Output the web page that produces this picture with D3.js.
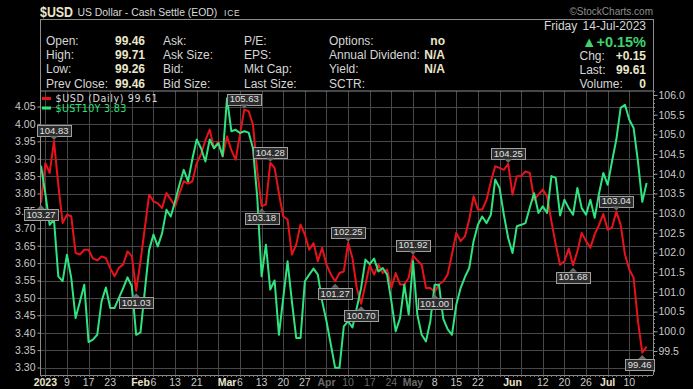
<!DOCTYPE html>
<html><head><meta charset="utf-8">
<script src="https://cdn.jsdelivr.net/npm/d3@7"></script>
<style>
html,body{margin:0;padding:0;background:#000;overflow:hidden;}
svg{display:block;font-family:"Liberation Sans",Arial,sans-serif;}
</style></head><body>
<svg id="chart" width="693" height="389"></svg>
<script>
// ---------------- DATA ----------------
const firstDate = "2022-12-30";
const usdValues = [
103.27,104.27,104.02,104.83,103.72,102.75,102.96,102.92,101.99,101.95,
102.07,102.07,101.85,101.80,101.90,101.86,101.60,101.40,101.61,101.70,
102.03,101.91,101.03,101.78,102.62,103.47,103.30,103.25,103.13,103.51,
103.35,103.17,103.50,103.81,103.75,103.81,104.27,104.50,104.85,105.12,
104.65,104.82,104.44,104.95,104.60,104.36,105.00,105.63,105.59,105.25,
104.06,103.18,103.22,104.28,104.15,103.50,102.92,102.84,101.95,102.20,
102.71,102.46,102.07,102.24,101.78,102.12,101.69,101.45,101.27,101.48,
101.52,102.25,101.86,101.10,100.70,101.19,101.69,101.44,101.69,101.48,
101.57,101.10,101.48,101.19,101.19,101.36,101.92,101.80,101.69,101.10,
101.10,101.00,101.19,101.27,101.44,101.95,102.50,102.29,102.41,102.84,
103.43,103.09,103.09,103.34,103.80,104.19,104.15,104.10,104.25,103.47,
103.94,103.94,104.06,104.02,103.34,103.47,103.60,103.43,102.79,102.20,
101.69,101.78,102.10,101.68,102.03,102.50,102.29,102.12,102.46,102.70,
102.98,102.58,102.63,103.04,102.71,101.95,101.57,101.36,100.26,99.46,
99.61];
const ust10yValues = [
3.88,3.80,3.71,3.725,3.562,3.548,3.624,3.557,3.442,3.49,
3.538,3.373,3.38,3.394,3.49,3.53,3.471,3.471,3.50,3.528,
3.559,3.533,3.394,3.401,3.52,3.638,3.682,3.648,3.686,3.753,
3.734,3.778,3.825,3.868,3.835,3.90,3.955,3.93,3.892,3.955,
3.93,3.945,3.907,4.074,3.979,3.983,3.974,3.979,3.975,3.93,
3.787,3.562,3.653,3.524,3.55,3.394,3.50,3.605,3.49,3.385,
3.385,3.548,3.567,3.584,3.567,3.49,3.433,3.366,3.299,3.299,
3.418,3.433,3.415,3.471,3.528,3.61,3.597,3.613,3.576,3.586,
3.567,3.49,3.404,3.442,3.538,3.452,3.605,3.452,3.394,3.375,
3.433,3.538,3.538,3.44,3.41,3.394,3.48,3.528,3.56,3.586,
3.663,3.71,3.734,3.715,3.739,3.84,3.816,3.739,3.672,3.629,
3.706,3.71,3.715,3.76,3.801,3.744,3.763,3.744,3.85,3.845,
3.737,3.782,3.758,3.739,3.816,3.758,3.739,3.782,3.73,3.80,
3.859,3.825,3.892,3.955,4.046,4.055,4.012,3.988,3.892,3.776,
3.83];
const leftTicks = [3.30,3.35,3.40,3.45,3.50,3.55,3.60,3.65,3.70,3.75,3.80,3.85,3.90,3.95,4.00,4.05];
const rightTicks = [99.5,100.0,100.5,101.0,101.5,102.0,102.5,103.0,103.5,104.0,104.5,105.0,105.5,106.0];
const xLabelDates = ["2023-01-02","2023-01-09","2023-01-16","2023-01-23","2023-02-01","2023-02-06","2023-02-13","2023-02-20","2023-03-01","2023-03-06","2023-03-13","2023-03-20","2023-03-27","2023-04-03","2023-04-10","2023-04-17","2023-04-24","2023-05-01","2023-05-08","2023-05-15","2023-05-22","2023-06-01","2023-06-12","2023-06-19","2023-06-26","2023-07-03","2023-07-10"];
const xLabelTexts = ["2023","9","17","23","Feb","6","13","21","Mar","6","13","20","27","Apr","10","17","24","May","8","15","22","Jun","12","20","26","Jul","10"];
const xLabelBold = ["2023","Feb","Mar","Apr","May","Jun","Jul"];
const xLabelDim = ["2023-04-03","2023-04-10","2023-04-17","2023-04-24","2023-05-01"];
const annotIndex = [0,3,22,47,51,53,68,71,74,86,91,108,123,133,139];
const annotSide  = ["below","above","below","above","below","above","below","above","below","above","below","above","below","above","below"];
const headerLabels = [["Open:","High:","Low:","Prev Close:"],["Ask:","Ask Size:","Bid:","Bid Size:"],["P/E:","EPS:","Mkt Cap:","Last Size:"],["Options:","Annual Dividend:","Yield:","SCTR:"]];
const headerValues1 = ["99.46","99.71","99.26","99.46"];
const headerValues4 = ["no","N/A","N/A",""];
const quoteLabels = ["Chg:","Last:","Volume:"];
const quoteValues = ["+0.15","99.61","0"];

// ---------------- SETUP ----------------
const svg = d3.select("#chart");
const W = 693, H = 389;
const L = 40, R = 653, T = 91, B = 375;
const fmt = d3.timeFormat("%Y-%m-%d");
const dates = [];
let dd = d3.timeParse("%Y-%m-%d")(firstDate);
while (dates.length < usdValues.length) {
  if (dd.getDay() !== 0 && dd.getDay() !== 6) dates.push(new Date(dd));
  dd = d3.timeDay.offset(dd, 1);
}
const idxOf = new Map(dates.map((d,i)=>[fmt(d), i]));
const x = d3.scaleLinear().domain([0, usdValues.length-1]).range([41, 646.6]);
const yL = d3.scaleLinear().domain([3.30, 4.05]).range([367.5, 106.5]);
const yR = d3.scaleLinear().domain([99.5, 106.0]).range([351, 95]);

svg.append("rect").attr("width",W).attr("height",H).attr("fill","#000");

const RED = "#e8121a", GREEN = "#2fe37f", GRID = "#484848", LBL = "#c9c9c9", CREAM = "#ebe6c9";

// grid
const g = svg.append("g");
g.selectAll("line.h").data(leftTicks).join("line")
  .attr("x1",L).attr("x2",R).attr("y1",d=>Math.round(yL(d))+0.5).attr("y2",d=>Math.round(yL(d))+0.5)
  .attr("stroke",GRID).attr("stroke-width",1);
const mondays = dates.map((d,i)=>({d,i})).filter(o=>o.d.getDay()===1);
g.selectAll("line.v").data(mondays).join("line")
  .attr("x1",o=>Math.round(x(o.i))+0.5).attr("x2",o=>Math.round(x(o.i))+0.5).attr("y1",T).attr("y2",B)
  .attr("stroke",GRID).attr("stroke-width",1);

// frame / axes
svg.append("rect").attr("x",L+0.5).attr("y",19.5).attr("width",R-L).attr("height",T-19.5)
  .attr("fill","none").attr("stroke","#8c8c8c");
svg.append("line").attr("x1",L+0.5).attr("x2",L+0.5).attr("y1",T).attr("y2",B).attr("stroke","#8c8c8c");
svg.append("line").attr("x1",R+0.5).attr("x2",R+0.5).attr("y1",T).attr("y2",B).attr("stroke","#8c8c8c");
svg.append("line").attr("x1",L).attr("x2",R).attr("y1",B+0.5).attr("y2",B+0.5).attr("stroke","#8c8c8c");

// left axis
const leftAxis = d3.axisLeft(yL).tickValues(leftTicks).tickSize(3).tickPadding(2).tickFormat(d3.format(".2f"));
const la = svg.append("g").attr("transform",`translate(${L+0.5},0)`).call(leftAxis);
la.select(".domain").remove();
la.selectAll("line").attr("stroke","#9a9a9a");
la.selectAll("text").attr("fill",LBL).attr("font-size",10.5).attr("font-family","Liberation Sans, Arial, sans-serif");

// right axis
const rightMinor = d3.range(99.0, 106.11, 0.1).map(v=>+v.toFixed(1)).filter(v=>yR(v)>=T && yR(v)<=B);
svg.append("g").selectAll("line").data(rightMinor).join("line")
  .attr("x1",R).attr("x2",R+2).attr("y1",d=>Math.round(yR(d))+0.5).attr("y2",d=>Math.round(yR(d))+0.5)
  .attr("stroke","#8c8c8c");
const rightAxis = d3.axisRight(yR).tickValues(rightTicks).tickSize(4).tickPadding(1).tickFormat(d3.format(".1f"));
const ra = svg.append("g").attr("transform",`translate(${R+0.5},0)`).call(rightAxis);
ra.select(".domain").remove();
ra.selectAll("line").attr("stroke","#9a9a9a");
ra.selectAll("text").attr("fill",LBL).attr("font-size",10.5).attr("font-family","Liberation Sans, Arial, sans-serif");

// bottom ticks (each trading day)
svg.append("g").selectAll("line").data(dates.map((d,i)=>i)).join("line")
  .attr("x1",i=>Math.round(x(i))+0.5).attr("x2",i=>Math.round(x(i))+0.5).attr("y1",B).attr("y2",B+2)
  .attr("stroke","#7a7a7a");

// x labels
svg.append("g").selectAll("text").data(xLabelDates.map((d,k)=>({d,t:xLabelTexts[k]}))).join("text")
  .attr("x",o=>x(idxOf.get(o.d)))
  .attr("y",385.5)
  .attr("text-anchor","middle")
  .attr("font-size",10.5)
  .attr("font-weight",o=>xLabelBold.includes(o.t)?"bold":"normal")
  .attr("fill",o=>xLabelDim.includes(o.d)?"#6a6a6a":(xLabelBold.includes(o.t)?CREAM:LBL))
  .text(o=>o.t);

// lines
svg.append("clipPath").attr("id","pc").append("rect").attr("x",L+1).attr("y",T+1).attr("width",R-L-1).attr("height",B-T-1);
const lineR = d3.line().x((d,i)=>x(i)).y(d=>yR(d));
const lineL = d3.line().x((d,i)=>x(i)).y(d=>yL(d));
svg.append("path").datum(usdValues).attr("d",lineR).attr("fill","none").attr("stroke",RED)
  .attr("stroke-width",2).attr("stroke-linejoin","round").attr("clip-path","url(#pc)");
svg.append("path").datum(ust10yValues).attr("d",lineL).attr("fill","none").attr("stroke",GREEN)
  .attr("stroke-width",2).attr("stroke-linejoin","round").attr("clip-path","url(#pc)");

// annotations
const ag = svg.append("g");
annotIndex.forEach((i,k)=>{
  const v = usdValues[i];
  const px = x(i), py = yR(v);
  const txt = v.toFixed(2);
  const t = ag.append("text").attr("font-size",9.5).attr("fill","#e2e2e2").attr("text-anchor","middle").text(txt);
  const w = t.node().getComputedTextLength() + 5, h = 11;
  let top, tri;
  if (annotSide[k]==="above") {
    top = py - 5 - h;
    tri = [[px-4,top+h],[px+4,top+h],[px,top+h+4]];
  } else {
    top = py + 6.5;
    tri = [[px-4,top],[px+4,top],[px,top-4]];
  }
  let left = px - w/2;
  if (left + w > R + 1) left = R + 1 - w;
  ag.insert("rect","text").attr("x",Math.round(left)+0.5).attr("y",Math.round(top)+0.5).attr("width",Math.round(w)).attr("height",h)
    .attr("fill","#2c2c2c").attr("stroke","#a0a0a0").attr("stroke-width",1);
  ag.append("path").attr("d","M"+tri.map(p=>p.join(",")).join("L")+"Z").attr("fill","#6a6a6a");
  t.attr("x",left + w/2).attr("y",top+h-2.2).raise();
});

// legend
svg.append("rect").attr("x",42).attr("y",97).attr("width",9).attr("height",3).attr("fill",RED);
svg.append("rect").attr("x",42).attr("y",106.5).attr("width",9).attr("height",3).attr("fill",GREEN);
svg.append("text").attr("x",55.5).attr("y",101.5).attr("font-family","DejaVu Sans, sans-serif").attr("font-size",9.6)
  .attr("letter-spacing",0.6).attr("fill","#d8d8d8").text(`$USD (Daily) ${usdValues[usdValues.length-1].toFixed(2)}`);
svg.append("text").attr("x",55.5).attr("y",111.5).attr("font-family","DejaVu Sans, sans-serif").attr("font-size",9.6)
  .attr("letter-spacing",0.3).attr("fill",GREEN).text(`$UST10Y ${ust10yValues[ust10yValues.length-1].toFixed(2)}`);

// header
svg.append("text").attr("x",40).attr("y",16.5).attr("font-size",14).attr("font-weight","bold").attr("fill",CREAM)
  .attr("textLength",33).attr("lengthAdjust","spacingAndGlyphs").text("$USD");
svg.append("text").attr("x",77.5).attr("y",16).attr("font-size",10.4).attr("fill","#dadada").text("US Dollar - Cash Settle (EOD)");
svg.append("text").attr("x",224).attr("y",16).attr("font-size",8.5).attr("letter-spacing",0.8).attr("fill","#dadada").text("ICE");
svg.append("text").attr("x",653).attr("y",14.5).attr("text-anchor","end").attr("font-size",10).attr("fill","#8e8e8e").text("\u00A9StockCharts.com");

const colX = [46,163,244,329];
const rowY = [44.6,58.9,73.2,87.5];
headerLabels.forEach((col,c)=>col.forEach((lab,r)=>{
  svg.append("text").attr("x",colX[c]).attr("y",rowY[r]).attr("font-size",12).attr("fill","#d6d6d6").text(lab);
}));
headerValues1.forEach((v,r)=>svg.append("text").attr("x",145).attr("y",rowY[r]).attr("text-anchor","end")
  .attr("font-size",12).attr("font-weight","bold").attr("fill",CREAM).text(v));
headerValues4.forEach((v,r)=>svg.append("text").attr("x",445).attr("y",rowY[r]).attr("text-anchor","end")
  .attr("font-size",12).attr("font-weight","bold").attr("fill",CREAM).text(v));

svg.append("text").attr("x",646).attr("y",30).attr("text-anchor","end").attr("font-size",12).attr("fill","#d6d6d6")
  .attr("word-spacing",2).text("Friday 14-Jul-2023");
svg.append("text").attr("x",646).attr("y",46.5).attr("text-anchor","end").attr("font-size",14.5).attr("font-weight","bold")
  .attr("fill","#3fd36a").text("\u25B2+0.15%");
quoteLabels.forEach((lab,k)=>{
  svg.append("text").attr("x",579.5).attr("y",rowY[k+1]+0.6).attr("font-size",12).attr("fill","#d6d6d6").text(lab);
  svg.append("text").attr("x",646).attr("y",rowY[k+1]+0.6).attr("text-anchor","end").attr("font-size",12)
    .attr("font-weight","bold").attr("fill",CREAM).text(quoteValues[k]);
});
</script>
</body></html>
